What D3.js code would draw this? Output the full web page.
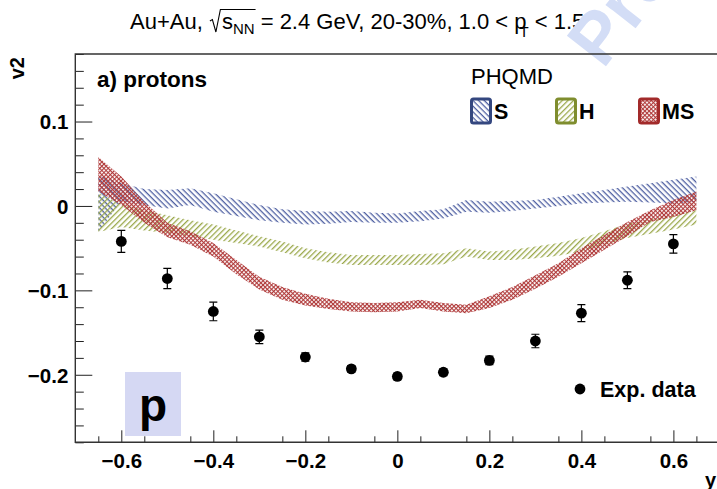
<!DOCTYPE html>
<html>
<head>
<meta charset="utf-8">
<script src="https://cdn.jsdelivr.net/npm/d3@7"></script>
<style>
  html, body { margin: 0; padding: 0; background: #fff; }
  svg { display: block; font-family: "Liberation Sans", Arial, Helvetica, sans-serif; }
</style>
</head>
<body>
<svg id="chart" width="717" height="489"></svg>
<script>
// Rapidity grid for the PHQMD bands
const bandX = [-0.65,-0.6,-0.55,-0.5,-0.45,-0.4,-0.35,-0.3,-0.25,-0.2,-0.15,-0.1,-0.05,0,0.05,0.1,0.15,0.2,0.25,0.3,0.35,0.4,0.45,0.5,0.55,0.6,0.65];

// PHQMD S (soft EoS) band
const sHigh = [0.036,0.027,0.020,0.019,0.021,0.015,0.008,0.001,-0.004,-0.006,-0.007,-0.006,-0.008,-0.009,-0.006,-0.004,0.007,0.005,0.006,0.007,0.011,0.015,0.019,0.023,0.027,0.031,0.035];
const sLow  = [-0.031,0.006,0.001,-0.003,0.001,-0.007,-0.012,-0.017,-0.020,-0.022,-0.021,-0.019,-0.020,-0.020,-0.018,-0.015,-0.007,-0.008,-0.006,-0.003,0.000,0.003,0.004,0.005,0.004,0.003,0.005];

// PHQMD H (hard EoS) band
const hHigh = [0.015,0.003,-0.005,-0.011,-0.017,-0.022,-0.029,-0.036,-0.042,-0.050,-0.055,-0.058,-0.058,-0.058,-0.057,-0.056,-0.050,-0.054,-0.052,-0.048,-0.044,-0.038,-0.030,-0.021,-0.016,-0.011,-0.005];
const hLow  = [-0.031,-0.025,-0.029,-0.032,-0.036,-0.040,-0.044,-0.048,-0.055,-0.062,-0.067,-0.070,-0.070,-0.070,-0.070,-0.069,-0.060,-0.064,-0.064,-0.062,-0.059,-0.054,-0.046,-0.038,-0.033,-0.028,-0.022];

// PHQMD MS (momentum-dependent soft EoS) band
const msHigh = [0.058,0.035,0.005,-0.020,-0.030,-0.044,-0.064,-0.084,-0.096,-0.104,-0.110,-0.114,-0.115,-0.114,-0.111,-0.115,-0.117,-0.107,-0.096,-0.082,-0.068,-0.050,-0.034,-0.019,-0.005,0.007,0.017];
const msLow  = [0.017,0.001,-0.020,-0.037,-0.046,-0.060,-0.081,-0.099,-0.111,-0.118,-0.122,-0.125,-0.126,-0.125,-0.121,-0.125,-0.127,-0.121,-0.111,-0.098,-0.084,-0.068,-0.052,-0.036,-0.019,-0.013,-0.005];

// HADES measurement
const expX   = [-0.6,-0.5,-0.4,-0.3,-0.2,-0.1,0,0.1,0.2,0.3,0.4,0.5,0.6];
const expV2  = [-0.042,-0.086,-0.125,-0.155,-0.179,-0.193,-0.202,-0.197,-0.183,-0.160,-0.127,-0.088,-0.045];
const expErr = [0.013,0.012,0.011,0.008,0.005,0.004,0.004,0.004,0.005,0.008,0.010,0.010,0.011];

// Axis ticks
const xMajorTicks = [-0.6,-0.4,-0.2,0,0.2,0.4,0.6];
const yMajorTicks = [-0.2,-0.1,0,0.1];

const svg = d3.select("#chart");
const W = 717, H = 489;
const plotLeft = 75.3, plotTop = 54, plotBottom = 442.3;

const x = d3.scaleLinear().domain([-0.7, 0.7]).range([plotLeft, 719.4]);
const y = d3.scaleLinear().domain([-0.28, 0.18]).range([plotBottom, plotTop]);

const defs = svg.append("defs");
defs.append("clipPath").attr("id", "plotClip")
  .append("rect").attr("x", plotLeft).attr("y", plotTop)
  .attr("width", W - plotLeft).attr("height", plotBottom - plotTop);

// Hatch patterns: "\\\\" for S, "////" for H, fine mesh for MS
function hatch(id, color, dir) {
  const p = defs.append("pattern").attr("id", id)
    .attr("patternUnits", "userSpaceOnUse").attr("width", 4).attr("height", 4)
    .attr("patternTransform", dir === "back" ? "rotate(45)" : "rotate(-45)");
  p.append("rect").attr("x", 0).attr("y", 0).attr("width", 4).attr("height", 1.3)
    .attr("fill", color);
}
hatch("hatchS", "#4f60a2", "back");
hatch("hatchH", "#9aa84a", "fwd");
const pm = defs.append("pattern").attr("id", "hatchMS")
  .attr("patternUnits", "userSpaceOnUse").attr("width", 3).attr("height", 3)
  .attr("patternTransform", "rotate(45)");
pm.append("rect").attr("x", 0).attr("y", 0).attr("width", 3).attr("height", 1.1).attr("fill", "#b03a3a");
pm.append("rect").attr("x", 0).attr("y", 0).attr("width", 1.1).attr("height", 3).attr("fill", "#b03a3a");

// Title
const title = svg.append("text").attr("x", 130).attr("y", 29)
  .attr("font-size", 22).attr("fill", "#000");
title.append("tspan").text("Au+Au, ");
title.append("tspan").attr("dx", 13).text("s");
title.append("tspan").attr("font-size", 15).attr("dy", 5).text("NN");
title.append("tspan").attr("dy", -5).text(" = 2.4 GeV, 20-30%, 1.0 < ");
title.append("tspan").text("p");
title.append("tspan").attr("font-size", 15).attr("dx", -7).attr("dy", 8).text("T");
title.append("tspan").attr("dy", -8).text(" < 1.5");
{
  const tn = title.node();
  const sx = tn.getStartPositionOfChar(7).x;
  const ex = tn.getEndPositionOfChar(9).x;
  const r = sx - 12;
  svg.append("path")
    .attr("d", `M${r},21 L${r + 2.5},19.5 L${r + 6},32 L${r + 10.5},9.5 L${ex + 1},9.5`)
    .attr("fill", "none").attr("stroke", "#000").attr("stroke-width", 1.1);
}

// Watermark
svg.append("text")
  .attr("transform", "translate(603,70) rotate(-52)")
  .attr("font-size", 72).attr("font-weight", "bold")
  .attr("fill", "#d3ddf6").text("Preliminary");

const plot = svg.append("g").attr("clip-path", "url(#plotClip)");

// Bands
function band(hi, lo, fill) {
  const data = bandX.map((v, i) => ({ x: v, hi: hi[i], lo: lo[i] }));
  plot.append("path").datum(data)
    .attr("d", d3.area().x(d => x(d.x)).y0(d => y(d.lo)).y1(d => y(d.hi)))
    .attr("fill", fill).attr("stroke", "none");
}
band(sHigh, sLow, "url(#hatchS)");
band(hHigh, hLow, "url(#hatchH)");
band(msHigh, msLow, "url(#hatchMS)");

// "p" label box
plot.append("rect").attr("x", 125).attr("y", 372).attr("width", 56).attr("height", 64)
  .attr("fill", "#d5d8f3");
svg.append("text").attr("x", 153).attr("y", 421).attr("text-anchor", "middle")
  .attr("font-size", 46).attr("font-weight", "bold").text("p");

// Experimental points
const pts = expX.map((v, i) => ({ x: v, v: expV2[i], e: expErr[i] }));
const pg = plot.append("g");
pts.forEach(d => {
  const cx = x(d.x), y1 = y(d.v + d.e), y2 = y(d.v - d.e);
  pg.append("line").attr("x1", cx).attr("x2", cx).attr("y1", y1).attr("y2", y2)
    .attr("stroke", "#000").attr("stroke-width", 1.2);
  [y1, y2].forEach(yy => pg.append("line").attr("x1", cx - 4).attr("x2", cx + 4)
    .attr("y1", yy).attr("y2", yy).attr("stroke", "#000").attr("stroke-width", 1.2));
  pg.append("circle").attr("cx", cx).attr("cy", y(d.v)).attr("r", 5.4).attr("fill", "#000");
});

// Axes
const fmt = v => v === 0 ? "0" : d3.format(".1f")(v);
const xMinor = d3.range(-14, 15).map(i => i * 0.05).filter(v => Math.abs(Math.round(v * 10) - v * 10) > 1e-6);
const yMinor = d3.range(-14, 10).map(i => i * 0.02).filter(v => Math.abs(Math.round(v * 10) - v * 10) > 1e-6);

const gx = svg.append("g").attr("transform", `translate(0,${plotBottom})`);
gx.call(d3.axisBottom(x).tickValues(xMajorTicks).tickSize(-12).tickPadding(11).tickFormat(fmt));
const gxm = svg.append("g").attr("transform", `translate(0,${plotBottom})`);
gxm.call(d3.axisBottom(x).tickValues(xMinor).tickSize(-6).tickFormat(""));

const gy = svg.append("g").attr("transform", `translate(${plotLeft},0)`);
gy.call(d3.axisLeft(y).tickValues(yMajorTicks).tickSize(-17).tickPadding(7).tickFormat(fmt));
const gym = svg.append("g").attr("transform", `translate(${plotLeft},0)`);
gym.call(d3.axisLeft(y).tickValues(yMinor).tickSize(-8.5).tickFormat(""));

[gx, gxm, gy, gym].forEach(g => {
  g.select(".domain").remove();
  g.selectAll(".tick line").attr("stroke", "#222").attr("stroke-width", 1);
  g.selectAll(".tick text").attr("font-family", "Liberation Sans, Arial, sans-serif")
    .attr("font-size", 20.5).attr("font-weight", "bold").attr("fill", "#000");
});
gy.selectAll(".tick text").attr("dy", "0.36em");

// Frame
svg.append("path")
  .attr("d", `M${W},${plotTop} L${plotLeft},${plotTop} L${plotLeft},${plotBottom} L${W},${plotBottom}`)
  .attr("fill", "none").attr("stroke", "#333").attr("stroke-width", 1.4);

// Axis titles
svg.append("text").attr("transform", "translate(24,57) rotate(-90)")
  .attr("text-anchor", "end").attr("font-size", 20).attr("font-weight", "bold").text("v2");
svg.append("text").attr("x", 716).attr("y", 487).attr("text-anchor", "end")
  .attr("font-size", 20).attr("font-weight", "bold").text("y");

// Panel label
svg.append("text").attr("x", 97).attr("y", 86.5)
  .attr("font-size", 22.5).attr("font-weight", "bold").text("a) protons");

// Legend
svg.append("text").attr("x", 471).attr("y", 84)
  .attr("font-size", 22).text("PHQMD");
const legend = [
  { label: "S", fill: "url(#hatchS)", stroke: "#34477f", x: 470 },
  { label: "H", fill: "url(#hatchH)", stroke: "#7f8d2e", x: 555 },
  { label: "MS", fill: "url(#hatchMS)", stroke: "#a22a2a", x: 638 }
];
legend.forEach(l => {
  svg.append("rect").attr("x", l.x + 1.5).attr("y", 99).attr("width", 19).attr("height", 24)
    .attr("rx", 2).attr("fill", "#fff");
  svg.append("rect").attr("x", l.x + 1.5).attr("y", 99).attr("width", 19).attr("height", 24)
    .attr("rx", 2).attr("fill", l.fill).attr("stroke", l.stroke).attr("stroke-width", 3);
  svg.append("text").attr("x", l.x + 24).attr("y", 118.5)
    .attr("font-size", 21.5).attr("font-weight", "bold").text(l.label);
});

svg.append("circle").attr("cx", 580).attr("cy", 389).attr("r", 5.4).attr("fill", "#000");
svg.append("text").attr("x", 600).attr("y", 396.5)
  .attr("font-size", 21.5).attr("font-weight", "bold").text("Exp. data");
</script>
</body>
</html>
